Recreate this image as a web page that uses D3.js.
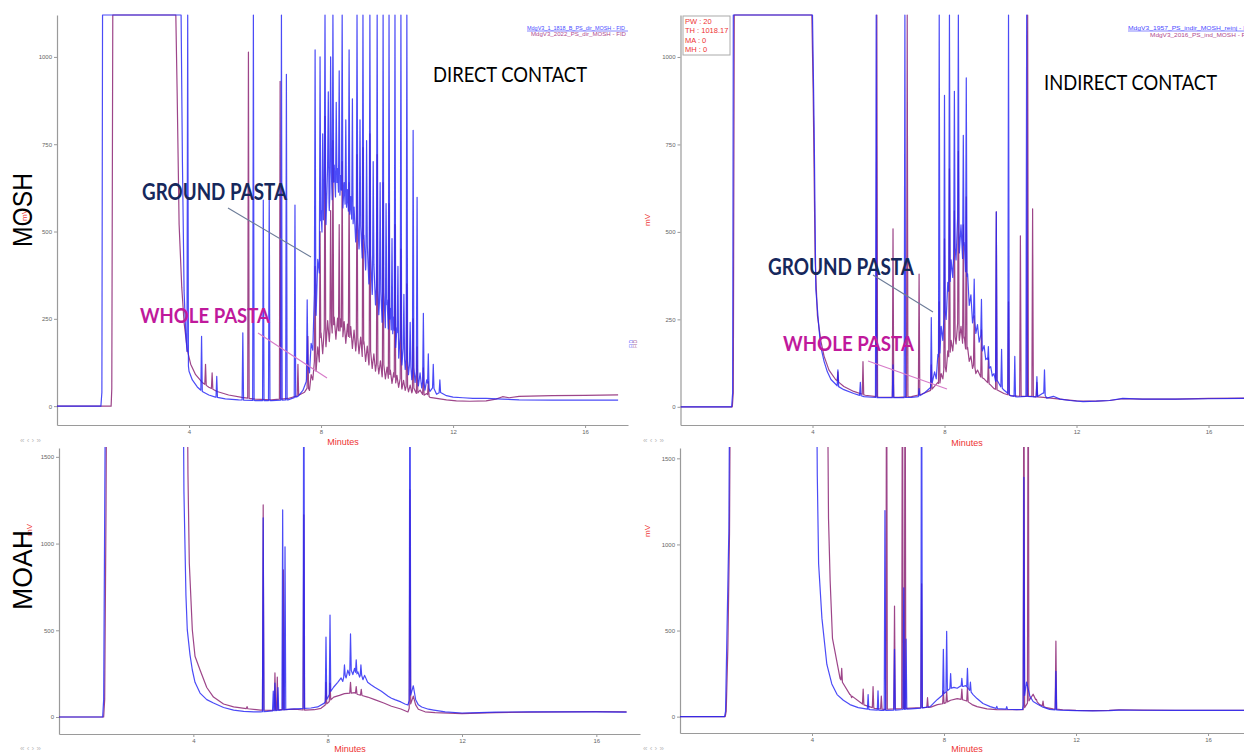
<!DOCTYPE html>
<html>
<head>
<meta charset="utf-8">
<script src="https://cdn.jsdelivr.net/npm/d3@7"></script>
<style>
  html, body { margin: 0; padding: 0; background: #fff; overflow: hidden; }
  svg { display: block; }
</style>
</head>
<body>
<svg id="chart" width="1244" height="754"></svg>
<script>
// ---- Axis ticks ----
const timeTicks = [4, 8, 12, 16];
const moshTicks = [0, 250, 500, 750, 1000];
const moahTicks = [0, 500, 1000, 1500];

// ---- MOSH, direct contact (mV vs minutes); values above the scale are off-range ----
const mdGroundBase = [[0,0],[1.33,0],[1.36,40],[1.38,1800],[3.76,1800],[3.8,700],[3.85,330],[3.9,210],[3.95,140],[4.0,100],[4.1,75],[4.25,55],[4.4,42],[4.6,32],[4.8,26],[5.1,21],[5.5,18],[6.0,16],[6.5,16],[7.0,18],[7.3,28],[7.45,45],
  [7.55,70],[7.6,120],[7.65,95],[7.7,180],[7.75,160],[7.8,330],[7.85,260],[7.9,420],[7.95,380],[8.0,560],[8.05,450],[8.1,640],[8.15,520],[8.2,690],[8.25,560],[8.3,705],[8.35,555],[8.4,690],[8.45,570],[8.5,680],[8.55,560],[8.6,660],[8.65,545],[8.7,640],[8.75,530],[8.8,620],[8.85,510],[8.9,600],[8.95,485],[9.0,570],[9.05,470],[9.1,550],[9.15,450],[9.2,520],[9.25,420],[9.3,490],[9.35,390],[9.4,465],[9.45,350],[9.5,438],[9.55,320],[9.6,410],[9.65,290],[9.7,385],[9.75,262],[9.8,355],[9.85,240],[9.9,330],[9.95,220],[10.0,304],[10.05,195],[10.1,280],[10.15,170],[10.2,255],[10.25,150],[10.3,225],[10.35,135],[10.4,200],[10.45,118],[10.5,180],[10.55,105],[10.6,160],[10.65,90],[10.7,140],[10.75,76],[10.8,125],[10.85,68],[10.9,110],[10.95,58],[11.0,95],[11.05,52],[11.1,85],[11.15,46],[11.2,75],[11.3,42],[11.4,55],[11.5,34],[11.6,40],[11.8,30],[12.0,26],[12.3,24],[12.6,22],[13.0,22],[13.5,20],[14,18],[15,17],[16,17],[17.0,17]];
const mdGroundPeaks = [[3.96,1800],[4.38,200],[4.84,85],[5.63,210],[5.95,1800],[6.25,590],[6.43,620],[6.8,1800],[6.95,950],[7.21,576],[7.58,304],[7.82,1020],[7.97,1000],[8.05,780],[8.12,1800],[8.22,900],[8.29,1000],[8.36,1800],[8.46,870],[8.55,960],[8.64,1800],[8.75,820],[8.85,1020],[8.95,880],[9.09,1800],[9.18,820],[9.27,1800],[9.38,760],[9.48,1800],[9.58,700],[9.7,1800],[9.79,640],[9.88,1800],[9.97,580],[10.06,1800],[10.15,480],[10.24,1800],[10.33,400],[10.42,1800],[10.51,320],[10.6,1800],[10.7,240],[10.79,790],[10.91,598],[11.1,266],[11.25,150],[11.4,120],[11.6,75]];
const mdWholeBase = [[0,0],[1.64,0],[1.66,50],[1.69,1800],[3.6,1800],[3.64,900],[3.7,520],[3.78,340],[3.85,240],[3.95,160],[4.05,120],[4.2,90],[4.4,68],[4.6,54],[4.85,42],[5.2,32],[5.6,25],[6.0,20],[6.5,18],[7.0,22],[7.3,30],[7.5,40],
  [7.6,55],[7.65,45],[7.7,90],[7.75,75],[7.8,130],[7.85,100],[7.9,170],[7.95,125],[8.0,210],[8.05,150],[8.1,225],[8.15,170],[8.2,245],[8.25,185],[8.3,255],[8.35,195],[8.4,255],[8.45,192],[8.5,252],[8.55,188],[8.6,250],[8.65,185],[8.7,242],[8.75,180],[8.8,235],[8.85,172],[8.9,228],[8.95,165],[9.0,218],[9.05,158],[9.1,210],[9.15,150],[9.2,198],[9.25,140],[9.3,185],[9.35,128],[9.4,172],[9.45,118],[9.5,160],[9.55,108],[9.6,150],[9.65,100],[9.7,140],[9.75,92],[9.8,130],[9.85,84],[9.9,120],[9.95,78],[10.0,112],[10.05,70],[10.1,103],[10.15,65],[10.2,96],[10.25,60],[10.3,88],[10.35,54],[10.4,80],[10.45,49],[10.5,74],[10.55,45],[10.6,66],[10.65,41],[10.7,60],[10.75,38],[10.8,54],[10.9,34],[11.0,46],[11.1,30],[11.2,36],[11.3,25],[11.5,22],[11.8,18],[12.1,15],[12.5,14],[13.0,15],[13.3,20],[13.5,27],[13.7,24],[14,28],[15,30],[16,31],[17,32]];
const mdWholePeaks = [[4.5,120],[4.7,95],[5.8,1014],[6.76,930],[7.3,120],[7.6,200],[7.82,400],[7.97,500],[8.12,830],[8.29,560],[8.36,760],[8.55,520],[8.64,700],[8.85,640],[9.09,720],[9.27,740],[9.48,780],[9.7,720],[9.88,640],[10.06,580],[10.24,520],[10.42,450],[10.6,350],[10.79,250],[10.91,170],[11.1,110],[11.25,70]];

// ---- MOSH, indirect contact ----
const miGroundBase = [[0,0],[1.55,0],[1.58,40],[1.6,1800],[4.0,1800],[4.05,800],[4.1,336],[4.2,220],[4.25,172],[4.35,130],[4.45,100],[4.56,78],[4.75,60],[4.95,49],[5.25,38],[5.56,29],[6.0,26],[6.6,26],[7.0,27],[7.2,29],[7.4,40],[7.6,57],
  [7.7,100],[7.75,80],[7.8,150],[7.85,130],[7.9,230],[7.95,190],[8.0,290],[8.05,250],[8.1,356],[8.15,310],[8.2,420],[8.25,370],[8.3,480],[8.35,420],[8.4,546],[8.45,440],[8.5,520],[8.55,420],[8.6,470],[8.65,360],[8.7,380],[8.75,290],[8.8,320],[8.85,240],[8.9,270],[8.95,210],[9.0,235],[9.05,185],[9.1,205],[9.15,160],[9.2,175],[9.25,135],[9.3,140],[9.35,110],[9.4,115],[9.45,88],[9.5,95],[9.55,72],[9.6,75],[9.7,58],[9.8,48],[9.9,40],[10.0,32],[10.2,28],[10.5,30],[10.8,28],[11.0,40],[11.1,25],[11.3,30],[11.5,22],[11.8,18],[12.2,15],[12.6,16],[13,18],[13.4,24],[14,22],[15,22],[16,23],[17.1,24]];
const miGroundPeaks = [[4.77,106],[5.45,70],[5.93,1800],[6.44,120],[6.8,1800],[7.23,52],[7.6,255],[7.84,1800],[8.0,890],[8.15,1800],[8.3,902],[8.42,1800],[8.57,776],[8.66,940],[8.9,365],[9.12,307],[9.33,172],[9.57,557],[9.73,164],[9.94,1800],[10.13,144],[10.49,1800],[10.8,86],[11.03,106]];
const miWholeBase = [[0,0],[1.57,0],[1.6,40],[1.63,1800],[3.98,1800],[4.02,900],[4.08,420],[4.15,260],[4.25,190],[4.35,145],[4.5,105],[4.7,78],[4.95,58],[5.25,44],[5.6,33],[6.0,28],[6.6,27],[7.0,29],[7.3,36],[7.6,48],
  [7.8,70],[7.85,60],[7.9,95],[7.95,80],[8.0,125],[8.05,100],[8.1,160],[8.15,130],[8.2,190],[8.25,160],[8.3,215],[8.35,180],[8.4,241],[8.45,190],[8.5,230],[8.55,180],[8.6,200],[8.65,155],[8.7,170],[8.75,130],[8.8,145],[8.85,110],[8.9,126],[8.95,95],[9.0,105],[9.1,85],[9.2,80],[9.3,70],[9.4,62],[9.5,52],[9.6,48],[9.8,38],[10.0,32],[10.3,30],[10.6,30],[11.0,27],[11.5,22],[12,17],[12.6,16],[13,18],[13.4,23],[14,22],[15,22],[16,24],[17.1,25]];
const miWholePeaks = [[4.77,100],[5.53,129],[5.95,1800],[6.44,509],[6.87,1800],[7.23,379],[7.6,120],[7.84,300],[8.0,480],[8.15,680],[8.3,560],[8.42,730],[8.57,520],[8.66,600],[8.9,260],[9.12,220],[9.33,140],[9.57,557],[9.94,300],[10.3,489],[10.52,1800],[10.67,566],[10.8,70]];

// ---- MOAH, direct contact ----
const adGroundBase = [[0,0],[1.3,0],[1.33,100],[1.37,1500],[1.4,2500],[3.68,2500],[3.72,1300],[3.78,700],[3.82,502],[3.9,360],[3.97,271],[4.05,200],[4.2,138],[4.4,100],[4.6,81],[4.9,55],[5.2,40],[5.5,33],[5.8,29],[6.0,30],[6.2,32],[6.5,38],[6.9,45],[7.2,48],[7.5,52],[7.7,58],[7.9,80],[8.0,110],[8.1,150],[8.18,173],[8.3,200],[8.4,225],[8.45,205],[8.5,250],[8.55,225],[8.6,270],[8.65,240],[8.69,275],[8.75,245],[8.8,280],[8.85,240],[8.9,260],[8.95,230],[9.0,250],[9.05,215],[9.1,240],[9.19,200],[9.3,185],[9.4,172],[9.5,160],[9.6,148],[9.67,138],[9.8,120],[9.9,108],[10.0,100],[10.18,87],[10.3,75],[10.39,69],
  [10.55,180],[10.62,100],[10.7,70],[10.8,58],[11.0,45],[11.16,40],[11.5,30],[12,23],[12.5,25],[13,28],[14,30],[15,30],[16,29],[16.9,28]];
const adGroundPeaks = [[6.08,1148],[6.38,150],[6.43,196],[6.52,170],[6.66,1194],[6.73,981],[7.29,2500],[7.95,461],[8.07,588],[8.5,300],[8.68,479],[8.85,330],[8.99,300],[10.45,2500]];
const adWholeBase = [[0,0],[1.33,0],[1.36,100],[1.4,1200],[1.43,2500],[3.8,2500],[3.84,1400],[3.88,888],[3.97,502],[4.05,350],[4.2,271],[4.4,170],[4.6,115],[4.9,75],[5.2,58],[5.6,48],[6.0,40],[6.3,38],[6.6,42],[7.0,45],[7.3,40],[7.6,42],[7.8,50],[8.0,80],[8.1,100],[8.18,115],[8.35,125],[8.5,135],[8.69,138],[8.8,140],[8.9,130],[9.0,125],[9.19,115],[9.4,100],[9.67,81],[9.9,62],[10.18,46],[10.39,29],
  [10.55,120],[10.62,70],[10.7,45],[10.9,30],[11.2,25],[11.6,22],[12,20],[12.5,22],[13,25],[14,28],[15,30],[16,31],[16.9,30]];
const adWholePeaks = [[5.6,60],[6.08,1223],[6.43,254],[6.5,230],[6.68,848],[7.29,1165],[7.95,200],[8.07,196],[8.68,200],[8.85,175],[9.0,160],[10.45,1310]];

// ---- MOAH, indirect contact ----
const aiGroundBase = [[0,0],[1.35,0],[1.38,30],[1.42,455],[1.48,1080],[1.52,2500],[4.12,2500],[4.16,1400],[4.2,888],[4.3,572],[4.45,303],[4.6,190],[4.76,128],[4.95,95],[5.15,70],[5.4,52],[5.76,41],[6.1,36],[6.5,38],[7.0,45],[7.3,50],[7.58,58],[7.8,100],[7.97,128],[8.1,150],[8.18,163],[8.3,170],[8.4,165],[8.5,178],[8.58,175],[8.65,180],[8.75,160],[8.88,128],[9.0,105],[9.18,76],[9.4,58],[9.6,47],[9.9,43],[10.2,41],[10.38,42],
  [10.5,200],[10.6,120],[10.7,88],[10.85,70],[11.0,55],[11.2,42],[11.5,38],[12,35],[12.5,34],[13,35],[13.3,38],[14,37],[15,36],[16,36],[17.2,36]];
const aiGroundPeaks = [[5.7,128],[6.0,150],[6.21,1197],[6.5,391],[6.78,748],[6.85,450],[7.32,2500],[7.98,391],[8.08,496],[8.2,250],[8.54,222],[8.71,280],[8.8,200],[9.6,60],[9.9,58],[10.42,1390],[11.39,263]];
const aiWholeBase = [[0,0],[1.37,0],[1.4,30],[1.45,400],[1.5,1060],[1.54,2500],[4.45,2500],[4.5,1150],[4.55,788],[4.62,455],[4.85,222],[5.15,128],[5.55,70],[5.9,48],[6.2,42],[6.5,45],[7.0,50],[7.3,52],[7.6,55],[7.8,70],[8.0,76],[8.2,95],[8.4,105],[8.55,99],[8.7,90],[8.85,70],[9.0,58],[9.3,45],[9.6,41],[10.0,40],[10.4,40],
  [10.7,130],[10.8,90],[10.9,70],[11.1,52],[11.3,45],[11.6,40],[12,36],[12.5,35],[13,36],[13.3,40],[14,38],[15,37],[16,37],[17.2,37]];
const aiWholePeaks = [[4.9,280],[5.2,110],[5.55,160],[5.85,175],[6.1,120],[6.26,2500],[6.5,642],[6.74,2500],[6.82,2500],[7.32,771],[7.5,110],[7.98,150],[8.08,146],[8.54,160],[8.71,170],[10.42,2500],[10.55,2500],[10.8,100],[11.0,90],[11.39,438]];

// ---- Styles ----
const groundColor = "#2323f5";
const wholeColor = "#8c2474";
const axisColor = "#9a9a9a";
const redText = "#ee3333";

const svg = d3.select("#chart");

// Merge narrow peaks into a baseline trace
function buildTrace(base, peaks) {
  const baseAt = d3.scaleLinear().domain(base.map(d => d[0])).range(base.map(d => d[1]));
  const hw = 0.022;
  const pts = base.filter(([t]) => !peaks.some(([p]) => Math.abs(t - p) <= hw));
  peaks.forEach(([t, h]) => {
    pts.push([t - hw, baseAt(t - hw)], [t, h], [t + hw, baseAt(t + hw)]);
  });
  return pts.sort((a, b) => a[0] - b[0]);
}

const panels = [
  { id: "md", x0: 57, x1: 628, tMax: 17.3, yTop: 15, yBot: 425, vMin: -54, vMax: 1120, ticks: moshTicks, clampTop: true,
    ground: [mdGroundBase, mdGroundPeaks], whole: [mdWholeBase, mdWholePeaks] },
  { id: "mi", x0: 680.5, x1: 1244.8, tMax: 17.1, yTop: 15, yBot: 425, vMin: -52, vMax: 1120, ticks: moshTicks, clampTop: true,
    ground: [miGroundBase, miGroundPeaks], whole: [miWholeBase, miWholePeaks] },
  { id: "ad", x0: 59, x1: 640, tMax: 17.3, yTop: 448, yBot: 734, vMin: -98, vMax: 1551, ticks: moahTicks, clampTop: false,
    ground: [adGroundBase, adGroundPeaks], whole: [adWholeBase, adWholePeaks] },
  { id: "ai", x0: 680, x1: 1246, tMax: 17.15, yTop: 448, yBot: 733, vMin: -95, vMax: 1560, ticks: moahTicks, clampTop: false,
    ground: [aiGroundBase, aiGroundPeaks], whole: [aiWholeBase, aiWholePeaks] }
];

const defs = svg.append("defs");

panels.forEach(p => {
  const x = d3.scaleLinear().domain([0, p.tMax]).range([p.x0, p.x1]);
  const y = d3.scaleLinear().domain([p.vMin, p.vMax]).range([p.yBot, p.yTop]).clamp(p.clampTop);
  const g = svg.append("g").attr("class", "panel-" + p.id);

  defs.append("clipPath").attr("id", "clip-" + p.id)
    .append("rect").attr("x", p.x0).attr("y", p.yTop - 1)
    .attr("width", Math.min(p.x1, 1244) - p.x0).attr("height", p.yBot - p.yTop + 1);

  // axes
  const yAxis = d3.axisLeft(y).tickValues(p.ticks).tickFormat(d3.format("d"))
    .tickSize(3).tickSizeOuter(0).tickPadding(2);
  const xAxis = d3.axisBottom(x).tickValues(timeTicks).tickFormat(d3.format("d"))
    .tickSize(3).tickSizeOuter(0).tickPadding(2);
  const ya = g.append("g").attr("transform", `translate(${p.x0},0)`).call(yAxis);
  const xa = g.append("g").attr("transform", `translate(0,${p.yBot})`).call(xAxis);
  [ya, xa].forEach(a => {
    a.select(".domain").attr("stroke", axisColor).attr("stroke-width", 1.2);
    a.selectAll(".tick line").attr("stroke", axisColor);
    a.selectAll(".tick text").attr("fill", "#666").attr("font-size", 6)
      .attr("font-family", "Liberation Sans, Arial, sans-serif");
  });

  const line = d3.line().x(d => x(d[0])).y(d => y(d[1]));
  const traces = g.append("g").attr("clip-path", `url(#clip-${p.id})`);
  traces.append("path")
    .datum(buildTrace(p.whole[0], p.whole[1]))
    .attr("d", line).attr("fill", "none").attr("stroke", wholeColor)
    .attr("stroke-width", 1.2).attr("stroke-opacity", 0.85).attr("stroke-linejoin", "round");
  traces.append("path")
    .datum(buildTrace(p.ground[0], p.ground[1]))
    .attr("d", line).attr("fill", "none").attr("stroke", groundColor)
    .attr("stroke-width", 1.2).attr("stroke-opacity", 0.82).attr("stroke-linejoin", "round");
});

// ---- Text annotations ----
function txt(xp, yp, s, opts) {
  const t = svg.append("text").attr("x", xp).attr("y", yp).text(s)
    .attr("font-family", opts.family || "Liberation Sans, Arial, sans-serif")
    .attr("font-size", opts.size).attr("fill", opts.fill || "#000");
  if (opts.weight) t.attr("font-weight", opts.weight);
  if (opts.anchor) t.attr("text-anchor", opts.anchor);
  if (opts.len) t.attr("textLength", opts.len).attr("lengthAdjust", "spacingAndGlyphs");
  if (opts.rotate) t.attr("transform", `rotate(${opts.rotate},${xp},${yp})`);
  return t;
}

// "Minutes" axis titles
[[343, 445], [967, 446], [350, 752], [967, 752]].forEach(([a, b]) =>
  txt(a, b, "Minutes", { size: 9, fill: redText, anchor: "middle" }));

// navigation glyphs
[[20, 443], [643, 443], [20, 751], [643, 751]].forEach(([a, b]) =>
  txt(a, b, "«  ‹  ›  »", { size: 8, fill: "#bbbbbb" }));

// mV unit labels
txt(650, 220, "mV", { size: 8, fill: redText, anchor: "middle", rotate: -90 });
txt(650, 531, "mV", { size: 8, fill: redText, anchor: "middle", rotate: -90 });
txt(27, 215, "mV", { size: 8, fill: redText, anchor: "middle", rotate: -90 });
txt(32, 530, "mV", { size: 8, fill: redText, anchor: "middle", rotate: -90 });

// row titles
txt(32, 210, "MOSH", { size: 27, anchor: "middle", rotate: -90, len: 74 });
txt(32, 570, "MOAH", { size: 27, anchor: "middle", rotate: -90, len: 80 });

// sample legends
txt(625, 29.5, "MdgV3_1_1818_B_PS_dir_MOSH - FID", { size: 5.6, fill: "#4b4bff", anchor: "end", len: 98 });
svg.append("line").attr("x1", 527).attr("x2", 628).attr("y1", 31).attr("y2", 31).attr("stroke", "#6b6bff").attr("stroke-width", 0.8);
txt(626, 36, "MdgV3_2022_PS_dir_MOSH - FID", { size: 5.6, fill: "#b04a8f", anchor: "end", len: 95 });
txt(1128, 29.5, "MdgV3_1957_PS_indir_MOSH_reinj - FID", { size: 5.6, fill: "#4b4bff", len: 126 });
svg.append("line").attr("x1", 1128).attr("x2", 1244).attr("y1", 31).attr("y2", 31).attr("stroke", "#6b6bff").attr("stroke-width", 0.8);
txt(1150, 37, "MdgV3_2016_PS_ind_MOSH - FID", { size: 5.6, fill: "#b04a8f", len: 102 });

// detector tags
txt(633, 344, "FID", { size: 5, fill: "#5555ff", anchor: "middle", rotate: -90 });
txt(637, 344, "FID", { size: 5, fill: "#a04a90", anchor: "middle", rotate: -90 });

// integration parameters box
svg.append("rect").attr("x", 683).attr("y", 16).attr("width", 47).attr("height", 39)
  .attr("fill", "#fff").attr("stroke", "#aaa").attr("stroke-width", 1);
[["PW : 20", 24], ["TH : 1018.17", 33], ["MA : 0", 42.5], ["MH : 0", 51.5]].forEach(([s, b]) =>
  txt(685, b, s, { size: 7.5, fill: redText }));

// panel titles
txt(433, 82, "DIRECT CONTACT", { size: 21, family: "Lato, sans-serif", len: 154 });
txt(1044, 90, "INDIRECT CONTACT", { size: 21, family: "Lato, sans-serif", len: 173 });

// sample labels with pointer lines
const navy = "#16285c", magenta = "#c0199c";
function pointer(x1, y1, x2, y2, c) {
  svg.append("line").attr("x1", x1).attr("y1", y1).attr("x2", x2).attr("y2", y2)
    .attr("stroke", c).attr("stroke-width", 1.1);
}
pointer(228, 208, 311, 257, "#6c7c98");
pointer(258, 333, 327, 378, "#d77ac8");
pointer(873, 275, 933, 312, "#6c7c98");
pointer(868, 361, 947, 389, "#d77ac8");
txt(142, 199.5, "GROUND PASTA", { size: 22, weight: 700, family: "Lato, sans-serif", fill: navy, len: 145 });
txt(140, 323, "WHOLE PASTA", { size: 21, weight: 700, family: "Lato, sans-serif", fill: magenta, len: 130 });
txt(768, 275, "GROUND PASTA", { size: 22, weight: 700, family: "Lato, sans-serif", fill: navy, len: 146 });
txt(783, 351, "WHOLE PASTA", { size: 21, weight: 700, family: "Lato, sans-serif", fill: magenta, len: 131 });
</script>
</body>
</html>
